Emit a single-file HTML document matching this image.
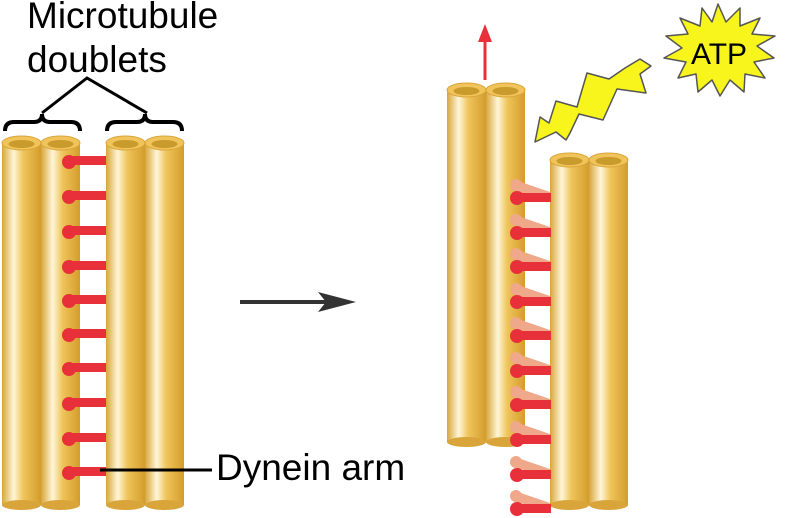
<!DOCTYPE html>
<html><head><style>body{margin:0;background:#fff}svg{display:block}</style></head><body>
<svg width="793" height="518" viewBox="0 0 793 518" xmlns="http://www.w3.org/2000/svg" font-family="Liberation Sans, sans-serif">
<defs>
<linearGradient id="g" x1="0" x2="1" y1="0" y2="0">
<stop offset="0" stop-color="#d9a53a"/><stop offset="0.3" stop-color="#fff6d8"/><stop offset="0.55" stop-color="#efc45a"/><stop offset="1" stop-color="#d39d2c"/>
</linearGradient>
</defs>
<!-- left tubes -->
<g>
<rect x="2" y="143" width="39" height="362" fill="url(#g)"/><ellipse cx="21.5" cy="505" rx="19.5" ry="5" fill="#d9a53a"/><ellipse cx="21.5" cy="143" rx="19.5" ry="7" fill="#f0c45a" stroke="#d9a53a"/><ellipse cx="21.5" cy="144" rx="13" ry="4" fill="#c99a2c"/>
<rect x="41" y="143" width="39" height="362" fill="url(#g)"/><ellipse cx="60.5" cy="505" rx="19.5" ry="5" fill="#d9a53a"/><ellipse cx="60.5" cy="143" rx="19.5" ry="7" fill="#f0c45a" stroke="#d9a53a"/><ellipse cx="60.5" cy="144" rx="13" ry="4" fill="#c99a2c"/>
<rect x="106" y="143" width="39" height="362" fill="url(#g)"/><ellipse cx="125.5" cy="505" rx="19.5" ry="5" fill="#d9a53a"/><ellipse cx="125.5" cy="143" rx="19.5" ry="7" fill="#f0c45a" stroke="#d9a53a"/><ellipse cx="125.5" cy="144" rx="13" ry="4" fill="#c99a2c"/>
<rect x="145" y="143" width="39" height="362" fill="url(#g)"/><ellipse cx="164.5" cy="505" rx="19.5" ry="5" fill="#d9a53a"/><ellipse cx="164.5" cy="143" rx="19.5" ry="7" fill="#f0c45a" stroke="#d9a53a"/><ellipse cx="164.5" cy="144" rx="13" ry="4" fill="#c99a2c"/>
</g>
<!-- left arms -->
<g fill="#e8303a">
<rect x="67" y="156" width="39" height="9"/><circle cx="69" cy="162" r="7"/>
<rect x="67" y="191" width="39" height="9"/><circle cx="69" cy="197" r="7"/>
<rect x="67" y="226" width="39" height="9"/><circle cx="69" cy="232" r="7"/>
<rect x="67" y="261" width="39" height="9"/><circle cx="69" cy="267" r="7"/>
<rect x="67" y="295" width="39" height="9"/><circle cx="69" cy="301" r="7"/>
<rect x="67" y="329" width="39" height="9"/><circle cx="69" cy="335" r="7"/>
<rect x="67" y="363" width="39" height="9"/><circle cx="69" cy="369" r="7"/>
<rect x="67" y="398" width="39" height="9"/><circle cx="69" cy="404" r="7"/>
<rect x="67" y="433" width="39" height="9"/><circle cx="69" cy="439" r="7"/>
<rect x="67" y="467" width="39" height="9"/><circle cx="69" cy="473" r="7"/>
</g>
<!-- braces and labels -->
<g fill="none" stroke="#000" stroke-width="4">
<path d="M5,131 Q5,122 14,122 L34,122 Q42,122 42,114 Q42,122 50,122 L71,122 Q80,122 80,131"/>
<path d="M107,131 Q107,122 116,122 L137,122 Q145,122 145,114 Q145,122 153,122 L173,122 Q182,122 182,131"/>
<path d="M42,113 L87,78 L147,113" stroke-width="3"/>
<line x1="100" y1="470" x2="212" y2="470" stroke-width="3"/>
</g>
<text x="27" y="28" font-size="37">Microtubule</text>
<text x="27" y="72" font-size="37">doublets</text>
<text x="216" y="480" font-size="37">Dynein arm</text>
<!-- middle arrow -->
<line x1="240" y1="302" x2="335" y2="302" stroke="#333" stroke-width="4"/>
<polygon points="318,292 356,302 318,312 326,302" fill="#333"/>
<!-- right tubes -->
<rect x="447" y="90" width="39" height="352" fill="url(#g)"/><ellipse cx="466.5" cy="442" rx="19.5" ry="5" fill="#d9a53a"/><ellipse cx="466.5" cy="90" rx="19.5" ry="7" fill="#f0c45a" stroke="#d9a53a"/><ellipse cx="466.5" cy="91" rx="13" ry="4" fill="#c99a2c"/>
<rect x="486" y="90" width="39" height="352" fill="url(#g)"/><ellipse cx="505.5" cy="442" rx="19.5" ry="5" fill="#d9a53a"/><ellipse cx="505.5" cy="90" rx="19.5" ry="7" fill="#f0c45a" stroke="#d9a53a"/><ellipse cx="505.5" cy="91" rx="13" ry="4" fill="#c99a2c"/>
<rect x="550" y="160" width="39" height="345" fill="url(#g)"/><ellipse cx="569.5" cy="505" rx="19.5" ry="5" fill="#d9a53a"/><ellipse cx="569.5" cy="160" rx="19.5" ry="7" fill="#f0c45a" stroke="#d9a53a"/><ellipse cx="569.5" cy="161" rx="13" ry="4" fill="#c99a2c"/>
<rect x="589" y="160" width="39" height="345" fill="url(#g)"/><ellipse cx="608.5" cy="505" rx="19.5" ry="5" fill="#d9a53a"/><ellipse cx="608.5" cy="160" rx="19.5" ry="7" fill="#f0c45a" stroke="#d9a53a"/><ellipse cx="608.5" cy="161" rx="13" ry="4" fill="#c99a2c"/>
<!-- right arms -->
<g>
<path d="M515,180 L550,192 L550,199 L515,191Z" fill="#f0a88a"/><circle cx="516" cy="185" r="6" fill="#f0a88a"/>
<rect x="515" y="193" width="36" height="9" fill="#e8303a"/><circle cx="517" cy="198" r="7" fill="#e8303a"/>
<path d="M515,215 L550,227 L550,234 L515,226Z" fill="#f0a88a"/><circle cx="516" cy="220" r="6" fill="#f0a88a"/>
<rect x="515" y="228" width="36" height="9" fill="#e8303a"/><circle cx="517" cy="233" r="7" fill="#e8303a"/>
<path d="M515,249 L550,261 L550,268 L515,260Z" fill="#f0a88a"/><circle cx="516" cy="254" r="6" fill="#f0a88a"/>
<rect x="515" y="262" width="36" height="9" fill="#e8303a"/><circle cx="517" cy="267" r="7" fill="#e8303a"/>
<path d="M515,284 L550,296 L550,303 L515,295Z" fill="#f0a88a"/><circle cx="516" cy="289" r="6" fill="#f0a88a"/>
<rect x="515" y="297" width="36" height="9" fill="#e8303a"/><circle cx="517" cy="302" r="7" fill="#e8303a"/>
<path d="M515,318 L550,330 L550,337 L515,329Z" fill="#f0a88a"/><circle cx="516" cy="323" r="6" fill="#f0a88a"/>
<rect x="515" y="331" width="36" height="9" fill="#e8303a"/><circle cx="517" cy="336" r="7" fill="#e8303a"/>
<path d="M515,353 L550,365 L550,372 L515,364Z" fill="#f0a88a"/><circle cx="516" cy="358" r="6" fill="#f0a88a"/>
<rect x="515" y="366" width="36" height="9" fill="#e8303a"/><circle cx="517" cy="371" r="7" fill="#e8303a"/>
<path d="M515,387 L550,399 L550,406 L515,398Z" fill="#f0a88a"/><circle cx="516" cy="392" r="6" fill="#f0a88a"/>
<rect x="515" y="400" width="36" height="9" fill="#e8303a"/><circle cx="517" cy="405" r="7" fill="#e8303a"/>
<path d="M515,422 L550,434 L550,441 L515,433Z" fill="#f0a88a"/><circle cx="516" cy="427" r="6" fill="#f0a88a"/>
<rect x="515" y="435" width="36" height="9" fill="#e8303a"/><circle cx="517" cy="440" r="7" fill="#e8303a"/>
<path d="M515,457 L550,469 L550,476 L515,468Z" fill="#f0a88a"/><circle cx="516" cy="462" r="6" fill="#f0a88a"/>
<rect x="515" y="470" width="36" height="9" fill="#e8303a"/><circle cx="517" cy="475" r="7" fill="#e8303a"/>
<path d="M515,491 L550,503 L550,510 L515,502Z" fill="#f0a88a"/><circle cx="516" cy="496" r="6" fill="#f0a88a"/>
<rect x="515" y="504" width="36" height="9" fill="#e8303a"/><circle cx="517" cy="509" r="7" fill="#e8303a"/>
</g>
<!-- red up arrow -->
<line x1="485" y1="80" x2="485" y2="38" stroke="#e8303a" stroke-width="3"/>
<polygon points="478,42 485,24 492,42" fill="#e8303a"/>
<!-- lightning -->
<polygon points="535,142 540,117 549,123 556,101 577,107 587,73 609,79 625,68 640,59 651,66 640,74 646,93 617,89 603,120 579,114 570,133 566,140 556,132" fill="#f7f51c" stroke="#555" stroke-width="1.5" stroke-linejoin="round"/>
<!-- ATP star -->
<polygon points="718,4 726,22 740,8 740,26 760,18 752,34 775,36 757,46 774,58 754,62 765,78 745,74 744,92 730,80 720,96 712,80 698,92 696,74 678,78 686,62 664,58 682,48 666,36 688,34 680,18 700,26 702,8 712,22" fill="#f7f51c" stroke="#555" stroke-width="1.5" stroke-linejoin="round"/>
<text x="719" y="64" font-size="30" text-anchor="middle">ATP</text>
</svg>
</body></html>
